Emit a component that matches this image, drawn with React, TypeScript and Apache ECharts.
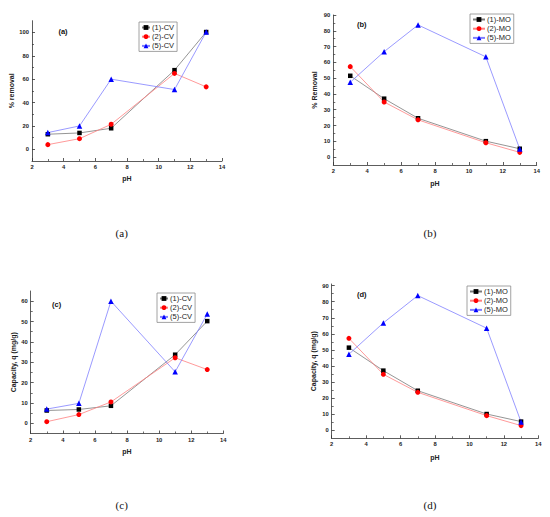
import React, { useEffect, useRef } from "react";
import * as echarts from "echarts";

// pH values (x)
const phValues = [3, 5, 7, 11, 13];

// (a) % removal, CV
const cvRemoval1 = [12.9, 14.0, 18.0, 67.7, 100.3];
const cvRemoval2 = [4.0, 9.1, 21.4, 64.9, 53.4];
const cvRemoval5 = [14.3, 20.0, 60.0, 51.1, 100.3];

// (b) % removal, MO
const moRemoval1 = [51.5, 37.0, 24.6, 10.1, 5.3];
const moRemoval2 = [57.3, 34.9, 23.6, 9.1, 3.0];
const moRemoval5 = [47.4, 66.8, 83.7, 63.5, 5.1];

// (c) capacity, CV
const cvCap1 = [6.3, 6.8, 8.6, 33.7, 50.2];
const cvCap2 = [0.8, 4.3, 10.5, 32.2, 26.4];
const cvCap5 = [7.0, 9.8, 60.0, 25.3, 53.7];

// (d) capacity, MO
const moCap1 = [51.4, 37.1, 24.6, 10.1, 5.4];
const moCap2 = [57.2, 34.8, 23.6, 9.1, 2.9];
const moCap5 = [47.3, 66.8, 83.8, 63.5, 5.1];

const cvNames = ["(1)-CV", "(2)-CV", "(5)-CV"];
const moNames = ["(1)-MO", "(2)-MO", "(5)-MO"];

const xTicks = [2, 4, 6, 8, 10, 12, 14];
const yTicksA = [0, 20, 40, 60, 80, 100];
const yMinorA = [10, 30, 50, 70, 90];
const yTicksB = [0, 10, 20, 30, 40, 50, 60, 70, 80, 90];
const yMinorB = [5, 15, 25, 35, 45, 55, 65, 75, 85];
const yTicksC = [0, 10, 20, 30, 40, 50, 60];
const yMinorC = [5, 15, 25, 35, 45, 55];

const panelLabels = ["(a)", "(b)", "(c)", "(d)"];
const yNames = ["% removal", "% Removal", "Capacity, q (mg/g)", "Capacity, q (mg/g)"];
const xName = "pH";

const SANS = "Liberation Sans, Arial, sans-serif";
const SERIF = "Liberation Serif, Times New Roman, serif";
const MARKER_COLORS = ["#000000", "#ff0000", "#0000ff"];
const LINE_COLORS = ["#7a7a7a", "#ff8080", "#8080ff"];
const SYMBOLS = ["rect", "circle", "triangle"];
const SYMBOL_SIZES = [4.5, 5, 5.5];

function pair(ys: number[]) {
  return phValues.map((x, i) => [x, ys[i]]);
}

function buildOption() {
  const grids = [
    { left: 32, top: 20.7, width: 190, height: 140.3 },
    { left: 333.3, top: 15, width: 203.4, height: 150 },
    { left: 30.7, top: 291, width: 192.6, height: 142.5 },
    { left: 331.7, top: 284, width: 206.6, height: 154.3 },
  ];
  const yRanges = [
    { min: -10, max: 110, majors: yTicksA, minors: yMinorA, gap: 17 },
    { min: -5, max: 90, majors: yTicksB, minors: yMinorB, gap: 15 },
    { min: -5, max: 65, majors: yTicksC, minors: yMinorC, gap: 13 },
    { min: -5, max: 91, majors: yTicksB, minors: yMinorB, gap: 15 },
  ];
  const xNameGaps = [14, 15, 14, 16];

  const axisLine = { show: true, onZero: false, lineStyle: { color: "#333", width: 0.8 } };
  const labelStyle = { fontSize: 5.8, fontWeight: "bold" as const, color: "#222", fontFamily: SANS };

  const xAxis = grids.map((_, i) => ({
    type: "value",
    gridIndex: i,
    min: xTicks[0],
    max: xTicks[xTicks.length - 1],
    interval: 2,
    axisLine,
    axisTick: { show: true, inside: true, length: 3, lineStyle: { color: "#333", width: 0.8 } },
    minorTick: { show: true, splitNumber: 2, length: 2, lineStyle: { color: "#333", width: 0.7 } },
    axisLabel: { ...labelStyle, margin: 3 },
    splitLine: { show: false },
    name: xName,
    nameLocation: "middle",
    nameGap: xNameGaps[i],
    nameTextStyle: { fontSize: 7, fontWeight: "bold", color: "#222", fontFamily: SANS },
  }));

  const yAxis: any[] = [];
  grids.forEach((_, i) => {
    const r = yRanges[i];
    yAxis.push({
      type: "value",
      gridIndex: i,
      position: "left",
      min: r.min,
      max: r.max,
      axisLine,
      axisTick: {
        show: true,
        inside: true,
        length: 3,
        customValues: r.majors,
        lineStyle: { color: "#333", width: 0.8 },
      },
      axisLabel: { ...labelStyle, margin: 3, customValues: r.majors },
      splitLine: { show: false },
      name: yNames[i],
      nameLocation: "middle",
      nameGap: r.gap,
      nameTextStyle: { fontSize: 7, fontWeight: "bold", color: "#222", fontFamily: SANS },
    });
  });
  grids.forEach((_, i) => {
    const r = yRanges[i];
    yAxis.push({
      type: "value",
      gridIndex: i,
      position: "left",
      offset: 0,
      min: r.min,
      max: r.max,
      axisLine: { show: false, onZero: false },
      axisTick: {
        show: true,
        inside: true,
        length: 2,
        customValues: r.minors,
        lineStyle: { color: "#333", width: 0.7 },
      },
      axisLabel: { show: false },
      splitLine: { show: false },
    });
  });

  const panelData = [
    { names: cvNames, data: [cvRemoval1, cvRemoval2, cvRemoval5] },
    { names: moNames, data: [moRemoval1, moRemoval2, moRemoval5] },
    { names: cvNames, data: [cvCap1, cvCap2, cvCap5] },
    { names: moNames, data: [moCap1, moCap2, moCap5] },
  ];

  const series: any[] = [];
  panelData.forEach((p, gi) => {
    p.data.forEach((vals, si) => {
      series.push({
        type: "line",
        name: p.names[si],
        xAxisIndex: gi,
        yAxisIndex: gi,
        data: pair(vals),
        symbol: SYMBOLS[si],
        symbolSize: SYMBOL_SIZES[si],
        showAllSymbol: true,
        itemStyle: { color: MARKER_COLORS[si] },
        lineStyle: { color: LINE_COLORS[si], width: 0.8 },
      });
    });
  });

  const legendPos = [
    { left: 139, top: 22, itemWidth: 8 },
    { left: 470, top: 14, itemWidth: 12 },
    { left: 157, top: 293, itemWidth: 8 },
    { left: 467, top: 286, itemWidth: 12 },
  ];
  const legend = legendPos.map((l, i) => ({
    orient: "vertical",
    left: l.left,
    top: l.top,
    padding: [1.5, 3, 1.5, 2],
    itemGap: 1.2,
    itemWidth: l.itemWidth,
    itemHeight: 6,
    borderColor: "#8a8a8a",
    borderWidth: 0.8,
    selectedMode: false,
    data: panelData[i].names,
    textStyle: { fontSize: 7.5, color: "#222", fontFamily: SANS, padding: [0, 0, 0, -3] },
  }));

  const innerLabelPos = [
    [63, 31],
    [361.7, 24],
    [56.7, 304],
    [361.7, 294],
  ];
  const captionPos = [
    [121.7, 233],
    [430, 233],
    [121.7, 505],
    [430, 505],
  ];
  const graphic: any[] = [];
  panelLabels.forEach((t, i) => {
    graphic.push({
      type: "text",
      x: innerLabelPos[i][0],
      y: innerLabelPos[i][1],
      style: {
        text: t,
        fontSize: 7.5,
        fontWeight: "bold",
        fontFamily: SANS,
        fill: "#111",
        align: "center",
        verticalAlign: "middle",
      },
    });
    graphic.push({
      type: "text",
      x: captionPos[i][0],
      y: captionPos[i][1],
      style: {
        text: t,
        fontSize: 11,
        fontFamily: SERIF,
        fill: "#111",
        align: "center",
        verticalAlign: "middle",
      },
    });
  });

  return {
    animation: false,
    backgroundColor: "#ffffff",
    grid: grids.map((g) => ({ ...g, containLabel: false })),
    xAxis,
    yAxis,
    series,
    legend,
    graphic,
  };
}

export default function App() {
  const ref = useRef<HTMLDivElement>(null);
  useEffect(() => {
    if (!ref.current) return;
    const chart = echarts.init(ref.current, undefined, { renderer: "svg" });
    chart.setOption(buildOption() as any);
    return () => chart.dispose();
  }, []);
  return (
    <div
      ref={ref}
      style={{ position: "absolute", left: 0, top: 0, width: 550, height: 517, background: "#fff" }}
    />
  );
}
